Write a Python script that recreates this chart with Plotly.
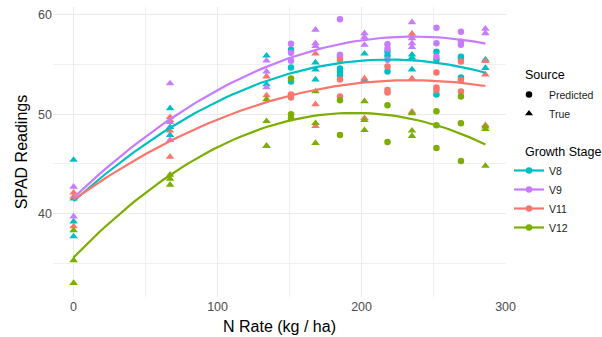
import numpy as np
import plotly.graph_objects as go

# ---- data ----
stages = ["V8", "V9", "V11", "V12"]
stage_colors = ["#00BFC4", "#C77CFF", "#F8766D", "#7CAE00"]

n_rate_true = [0, 67, 134, 168, 202, 235, 286]
n_rate_pred = [151, 185, 218, 252, 269]

v8_true = [[45.4, 41.5, 39.2, 37.7], [50.6, 48.7, 47.9], [55.9, 53.0], [55.2, 54.5, 53.5],
           [56.1, 53.4], [56.0, 55.7, 54.5], [55.5, 54.65]]
v9_true = [[42.7, 39.7], [53.1, 49.2, 47.4], [55.4, 54.3, 52.7], [58.5, 57.15, 56.85],
           [58.15, 57.75, 56.98], [59.26, 57.65, 57.15, 56.75], [58.6, 58.15]]
v11_true = [[42.1, 41.7, 38.7], [49.7, 49.4, 48.35, 45.7], [53.8, 51.9, 46.8], [56.1, 51.0, 48.8],
            [53.6, 49.6], [58.1, 53.6, 50.25], [55.35, 54.0, 48.9]]
v12_true = [[38.3, 35.3, 33.0], [43.9, 43.5, 42.9], [51.5, 49.3, 46.8], [52.3, 49.1, 47.1],
            [51.3, 49.4, 48.4], [50.1, 48.35, 47.8], [48.75, 48.5, 44.8]]

v8_pred = [[56.5, 54.7, 53.3], [54.6, 54.3, 53.9], [56.3, 55.9, 54.3], [56.3, 55.5, 52.0], [55.8, 55.57, 53.7]]
v9_pred = [[57.1, 56.2, 55.4], [59.57, 56.0, 55.8], [57.05, 56.6, 55.5], [58.7, 57.15, 55.8], [58.3, 57.3, 57.0]]
v11_pred = [[52.0, 51.7], [55.5, 53.5, 51.8], [54.8, 52.45, 52.2], [54.2, 52.7, 52.45], [55.3, 53.45, 52.3]]
v12_pred = [[53.6, 50.0, 49.6], [51.4, 47.9], [50.9, 47.2], [50.3, 48.9, 46.6], [51.8, 49.1, 45.3]]

true_by_stage = [v8_true, v9_true, v11_true, v12_true]
pred_by_stage = [v8_pred, v9_pred, v11_pred, v12_pred]

source_labels = ["Predicted", "True"]
x_ticks = [0, 100, 200, 300]
y_ticks = [40, 50, 60]


def flatten(xs, groups):
    fx, fy = [], []
    for x, g in zip(xs, groups):
        for v in g:
            fx.append(x)
            fy.append(v)
    return np.array(fx, float), np.array(fy, float)


fig = go.Figure()
FONT = "Liberation Sans, Arial, sans-serif"

# points
for name, col, tr, pr in zip(stages, stage_colors, true_by_stage, pred_by_stage):
    px_, py_ = flatten(n_rate_pred, pr)
    tx_, ty_ = flatten(n_rate_true, tr)
    fig.add_trace(go.Scatter(x=px_, y=py_, mode="markers", showlegend=False,
                             marker=dict(symbol="circle", size=6.5, color=col), hoverinfo="skip"))
    fig.add_trace(go.Scatter(x=tx_, y=ty_, mode="markers", showlegend=False,
                             marker=dict(symbol="triangle-up", size=7.5, color=col), hoverinfo="skip"))

# quadratic smooth per stage (fit to all points of the stage)
for name, col, tr, pr in zip(stages, stage_colors, true_by_stage, pred_by_stage):
    px_, py_ = flatten(n_rate_pred, pr)
    tx_, ty_ = flatten(n_rate_true, tr)
    ax = np.concatenate([px_, tx_])
    ay = np.concatenate([py_, ty_])
    coef = np.polyfit(ax, ay, 2)
    xs = np.linspace(ax.min(), ax.max(), 80)
    fig.add_trace(go.Scatter(x=xs, y=np.polyval(coef, xs), mode="lines", showlegend=False,
                             line=dict(color=col, width=2.2), hoverinfo="skip"))

# legend: Source
fig.add_trace(go.Scatter(x=[None], y=[None], mode="markers", name=source_labels[0], legend="legend",
                         marker=dict(symbol="circle", size=6.5, color="black")))
fig.add_trace(go.Scatter(x=[None], y=[None], mode="markers", name=source_labels[1], legend="legend",
                         marker=dict(symbol="triangle-up", size=7, color="black")))
# legend: Growth Stage
for name, col in zip(stages, stage_colors):
    fig.add_trace(go.Scatter(x=[None], y=[None], mode="lines+markers", name=name, legend="legend2",
                             line=dict(color=col, width=2.2), marker=dict(symbol="circle", size=6.5, color=col)))

LEG_X = 509 / 602
fig.update_layout(
    width=602, height=337,
    margin=dict(l=53, r=96, t=7, b=40),
    plot_bgcolor="white", paper_bgcolor="white",
    font=dict(family=FONT, color="#4D4D4D", size=11),
    legend=dict(xref="container", yref="container", x=LEG_X, y=1 - 80 / 337, xanchor="left", yanchor="top",
                font=dict(size=10.5, color="#1A1A1A"), itemwidth=30, tracegroupgap=0, bgcolor="rgba(0,0,0,0)"),
    legend2=dict(xref="container", yref="container", x=LEG_X, y=1 - 156 / 337, xanchor="left", yanchor="top",
                 font=dict(size=10.5, color="#1A1A1A"), itemwidth=30, tracegroupgap=0, bgcolor="rgba(0,0,0,0)"),
    xaxis=dict(range=[-14.3, 300.3], tickvals=x_ticks, showline=False, zeroline=False, automargin=False,
               gridcolor="#EBEBEB", gridwidth=1.1, ticks="", tickfont=dict(size=12.5, color="#4D4D4D"),
               minor=dict(tickvals=[50, 150, 250], showgrid=True, gridcolor="#F0F0F0", gridwidth=0.7),
               title=dict(text="N Rate (kg / ha)", font=dict(size=16, color="black"), standoff=8)),
    yaxis=dict(range=[31.6, 60.8], tickvals=y_ticks, showline=False, zeroline=False, automargin=False,
               gridcolor="#EBEBEB", gridwidth=1.1, ticks="", tickfont=dict(size=12.5, color="#4D4D4D"),
               minor=dict(tickvals=[35, 45, 55], showgrid=True, gridcolor="#F0F0F0", gridwidth=0.7),
               title=dict(text="SPAD Readings", font=dict(size=16, color="black"), standoff=6)),
    annotations=[
        dict(text="Source", xref="paper", yref="paper", x=(523 - 53) / 453, y=1 - (75 - 7) / 290,
             xanchor="left", yanchor="middle", showarrow=False, font=dict(size=12.5, color="black")),
        dict(text="Growth Stage", xref="paper", yref="paper", x=(523 - 53) / 453, y=1 - (152 - 7) / 290,
             xanchor="left", yanchor="middle", showarrow=False, font=dict(size=12.5, color="black")),
    ],
)

fig.write_html("out.html", config={"displayModeBar": False},
               post_script="document.body.style.margin='0px';document.body.style.padding='0px';")
